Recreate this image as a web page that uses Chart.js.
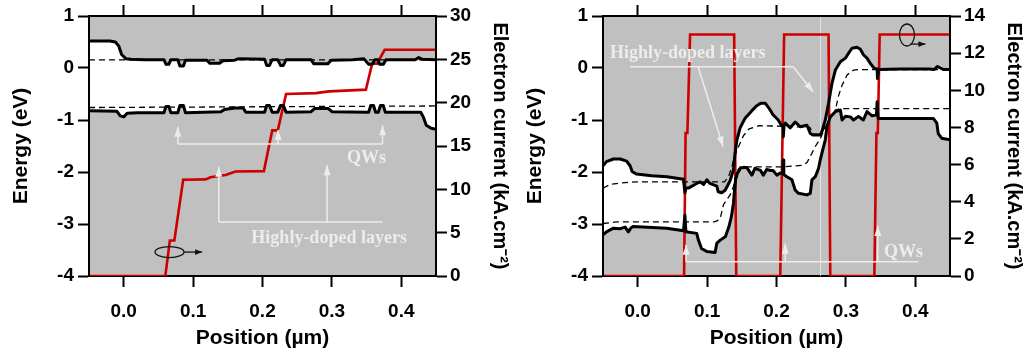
<!doctype html>
<html lang="en">
<head>
<meta charset="utf-8">
<title>Band diagrams</title>
<script src="https://cdn.jsdelivr.net/npm/chart.js"></script>
<style>
  html, body { margin: 0; padding: 0; background: #fff; }
  #wrap { position: relative; width: 1028px; height: 352px; }
  .panel { position: absolute; top: 0; width: 514px; height: 352px; }
</style>
</head>
<body>
<div id="wrap">
  <div class="panel" style="left:0"><canvas id="chartLeft" width="514" height="352"></canvas></div>
  <div class="panel" style="left:514px"><canvas id="chartRight" width="514" height="352"></canvas></div>
</div>

<script>
// ---- data: [position (um), energy (eV)] or [position, current (kA/cm2)] ----
const posTicks = [0, 0.1, 0.2, 0.3, 0.4];

// left panel
const leftEc = [[-0.05,0.52],[-0.02,0.52],[-0.012,0.50],[-0.007,0.42],[-0.003,0.26],[0.003,0.18],[0.01,0.17],[0.03,0.16],
  [0.058,0.16],[0.061,0.07],[0.065,0.07],[0.068,0.16],[0.078,0.16],[0.081,0.04],[0.086,0.04],[0.089,0.15],[0.12,0.15],
  [0.124,0.09],[0.138,0.09],[0.143,0.14],[0.16,0.15],[0.166,0.18],[0.203,0.17],[0.206,0.05],[0.21,0.05],[0.214,0.16],
  [0.222,0.16],[0.226,0.05],[0.23,0.05],[0.234,0.16],[0.27,0.16],[0.274,0.08],[0.294,0.08],[0.299,0.15],[0.33,0.16],
  [0.346,0.18],[0.353,0.07],[0.358,0.07],[0.362,0.16],[0.366,0.16],[0.369,0.07],[0.374,0.07],[0.378,0.16],[0.42,0.16],
  [0.425,0.20],[0.43,0.17],[0.45,0.16]];
const leftEv = [[-0.05,-0.82],[-0.01,-0.83],[-0.005,-0.92],[0.0,-0.94],[0.005,-0.87],[0.02,-0.86],[0.058,-0.86],[0.061,-0.74],
  [0.065,-0.74],[0.068,-0.86],[0.078,-0.86],[0.081,-0.72],[0.086,-0.72],[0.089,-0.86],[0.14,-0.84],[0.145,-0.80],[0.16,-0.77],
  [0.172,-0.77],[0.176,-0.85],[0.203,-0.85],[0.206,-0.72],[0.21,-0.72],[0.214,-0.85],[0.222,-0.85],[0.226,-0.72],[0.23,-0.72],
  [0.234,-0.85],[0.27,-0.84],[0.275,-0.78],[0.295,-0.78],[0.3,-0.84],[0.353,-0.85],[0.356,-0.72],[0.36,-0.72],[0.363,-0.85],
  [0.367,-0.85],[0.37,-0.72],[0.374,-0.72],[0.377,-0.85],[0.428,-0.85],[0.432,-0.95],[0.436,-1.10],[0.443,-1.16],[0.45,-1.18]];
const leftFn = [[-0.05,0.155],[0.2,0.155],[0.45,0.155]];
const leftFp = [[-0.05,-0.76],[0.2,-0.745],[0.45,-0.73]];
const leftJ = [[-0.05,0],[0.06,0],[0.0665,4.1],[0.073,4.1],[0.0857,11.1],[0.118,11.15],[0.125,11.4],[0.147,11.65],
  [0.161,12.05],[0.202,12.1],[0.214,16.8],[0.222,16.8],[0.234,21.0],[0.277,21.1],[0.296,21.3],[0.349,21.5],[0.358,24.5],
  [0.365,24.5],[0.376,26.1],[0.45,26.1]];

// right panel
const rightEc = [[-0.05,-1.88],[-0.045,-1.80],[-0.035,-1.75],[-0.025,-1.75],[-0.016,-1.79],[-0.011,-1.88],[-0.008,-1.99],
  [-0.002,-2.04],[0.02,-2.07],[0.042,-2.09],[0.066,-2.14],[0.068,-2.40],[0.0695,-2.31],[0.073,-2.31],[0.085,-2.22],[0.09,-2.19],
  [0.095,-2.24],[0.0996,-2.15],[0.104,-2.22],[0.114,-2.27],[0.116,-2.38],[0.121,-2.40],[0.126,-2.35],[0.13,-2.25],[0.133,-2.17],
  [0.138,-1.96],[0.140,-1.67],[0.143,-1.38],[0.1476,-1.15],[0.155,-0.96],[0.162,-0.86],[0.166,-0.80],[0.171,-0.73],[0.177,-0.68],
  [0.184,-0.68],[0.189,-0.77],[0.195,-0.90],[0.2025,-1.0],[0.207,-1.10],[0.2095,-1.13],[0.2098,-1.32],[0.211,-1.10],[0.2126,-1.06],
  [0.2198,-1.15],[0.227,-1.04],[0.2342,-1.13],[0.2439,-1.10],[0.2487,-1.26],[0.253,-1.29],[0.263,-1.29],[0.2655,-1.22],
  [0.2703,-1.0],[0.275,-0.68],[0.28,-0.29],[0.2848,-0.04],[0.292,0.12],[0.2993,0.19],[0.3036,0.28],[0.3088,0.38],[0.316,0.40],
  [0.3208,0.36],[0.3255,0.25],[0.3304,0.19],[0.3352,0.09],[0.341,-0.01],[0.345,-0.02],[0.3455,-0.2],[0.347,-0.03],[0.38,-0.02],
  [0.42,-0.02],[0.427,-0.03],[0.432,0.03],[0.436,0.0],[0.441,-0.03],[0.45,-0.03]];
const rightEv = [[-0.05,-3.21],[-0.045,-3.15],[-0.035,-3.08],[-0.025,-3.09],[-0.018,-3.06],[-0.0135,-3.15],[-0.010,-3.08],
  [-0.007,-3.05],[0.042,-3.08],[0.066,-3.13],[0.068,-2.83],[0.0695,-3.15],[0.085,-3.18],[0.0875,-3.31],[0.092,-3.47],
  [0.0996,-3.53],[0.1115,-3.55],[0.114,-3.37],[0.119,-3.31],[0.1265,-3.24],[0.1315,-3.05],[0.135,-2.86],[0.138,-2.60],
  [0.1395,-2.35],[0.141,-2.15],[0.1435,-2.03],[0.148,-1.93],[0.1525,-1.91],[0.1575,-1.92],[0.1645,-2.06],[0.169,-1.93],
  [0.177,-1.97],[0.181,-2.06],[0.186,-1.95],[0.191,-1.97],[0.195,-1.97],[0.2006,-2.06],[0.2054,-2.02],[0.209,-2.03],
  [0.2095,-1.77],[0.2105,-2.05],[0.215,-2.09],[0.2222,-2.15],[0.227,-2.35],[0.2317,-2.41],[0.2439,-2.44],[0.2487,-2.41],
  [0.2511,-2.15],[0.2559,-2.09],[0.2606,-1.93],[0.263,-1.77],[0.2678,-1.51],[0.2703,-1.38],[0.2727,-1.13],[0.2775,-0.94],
  [0.2848,-0.84],[0.292,-0.81],[0.2945,-1.0],[0.2993,-0.93],[0.3065,-0.94],[0.3109,-1.0],[0.3181,-0.93],[0.3251,-1.0],
  [0.3304,-0.84],[0.3377,-0.92],[0.344,-0.90],[0.345,-0.65],[0.3465,-0.97],[0.38,-0.97],[0.426,-0.97],[0.431,-1.06],
  [0.433,-1.26],[0.438,-1.35],[0.45,-1.38]];
const rightFn = [[-0.05,-2.31],[-0.04,-2.24],[-0.025,-2.21],[0.0,-2.19],[0.125,-2.19],[0.131,-2.09],[0.1365,-1.86],
  [0.1395,-1.70],[0.145,-1.52],[0.1525,-1.30],[0.1605,-1.17],[0.175,-1.11],[0.209,-1.12],[0.248,-1.14],[0.253,-1.27],
  [0.264,-1.27],[0.276,-1.0],[0.2848,-0.82],[0.289,-0.55],[0.2945,-0.33],[0.302,-0.13],[0.311,-0.04],[0.32,-0.03],[0.45,-0.03]];
const rightFp = [[-0.05,-2.99],[-0.03,-2.96],[0.11,-2.96],[0.1145,-2.94],[0.119,-2.89],[0.1212,-2.76],[0.1236,-2.63],
  [0.1284,-2.53],[0.1332,-2.44],[0.138,-2.28],[0.1429,-1.99],[0.1476,-1.90],[0.21,-1.90],[0.238,-1.87],[0.2439,-1.82],
  [0.2487,-1.70],[0.2559,-1.51],[0.263,-1.36],[0.27,-1.15],[0.2775,-0.95],[0.2848,-0.81],[0.292,-0.78],[0.45,-0.78]];
const rightJ = [[-0.05,0],[0.0668,0],[0.069,7.7],[0.0716,7.7],[0.0755,13.0],[0.139,13.0],[0.142,0],[0.2054,0],[0.211,13.0],
  [0.275,13.0],[0.2775,0],[0.341,0],[0.344,7.7],[0.346,7.7],[0.3487,13.0],[0.45,13.0]];

// ---- annotations (data coordinates) ----
const leftNotes = {
  lines: [[[0.078,-1.46],[0.373,-1.46]], [[0.137,-2.96],[0.373,-2.96]]],
  arrows: [[0.078,-1.46,0.078,-1.13],[0.2225,-1.46,0.2225,-1.19],[0.373,-1.46,0.373,-1.10],
           [0.137,-2.96,0.137,-1.90],[0.293,-2.96,0.293,-1.87]],
  texts: [['QWs',0.35,-1.73],['Highly-doped layers',0.296,-3.27]],
  oval: {at:[0.066,-3.54], rx:14.5, ry:5.5, from:[0.087,-3.54], to:[0.113,-3.54]},
  guide: null
};
const rightNotes = {
  lines: [[[-0.011,0.025],[0.224,0.025]], [[0.0697,-3.725],[0.4045,-3.725]]],
  arrows: [[0.087,0.025,0.123,-1.51],[0.224,0.025,0.253,-0.46],
           [0.0697,-3.725,0.0697,-3.40],[0.2126,-3.725,0.2126,-3.38],[0.346,-3.725,0.346,-3.04]],
  texts: [['Highly-doped layers',0.072,0.29],['QWs',0.383,-3.54]],
  oval: {at:[0.388,0.635], rx:7.5, ry:11, from:[0.393,0.46], to:[0.4146,0.46]},
  guide: 0.263
};

Chart.defaults.font.family = "'Liberation Sans', Arial, sans-serif";
Chart.defaults.font.size = 19;
Chart.defaults.font.weight = 'bold';
Chart.defaults.color = '#000';

const pts = arr => arr.map(p => ({x: p[0], y: p[1]}));

function arrow(ctx, x1, y1, x2, y2, len, half) {
  ctx.beginPath(); ctx.moveTo(x1, y1); ctx.lineTo(x2, y2); ctx.stroke();
  const a = Math.atan2(y2 - y1, x2 - x1);
  const bx = x2 - len * Math.cos(a), by = y2 - len * Math.sin(a);
  ctx.beginPath();
  ctx.moveTo(x2, y2);
  ctx.lineTo(bx + half * Math.sin(a), by - half * Math.cos(a));
  ctx.lineTo(bx - half * Math.sin(a), by + half * Math.cos(a));
  ctx.closePath(); ctx.fill();
}

function panelPlugin(notes) {
  return {
    id: 'panelDeco',
    beforeDraw(chart) {
      const {ctx, chartArea: a} = chart;
      ctx.save();
      ctx.fillStyle = '#c0c0c0';
      ctx.fillRect(a.left, a.top, a.right - a.left, a.bottom - a.top);
      ctx.restore();
    },
    beforeDatasetsDraw(chart) {
      if (notes.guide === null) return;
      const {ctx, chartArea: a, scales: {x}} = chart;
      const gx = Math.round(x.getPixelForValue(notes.guide)) + 0.5;
      ctx.save();
      ctx.strokeStyle = 'rgba(235,235,235,0.8)';
      ctx.lineWidth = 1;
      ctx.beginPath(); ctx.moveTo(gx, a.top); ctx.lineTo(gx, a.bottom); ctx.stroke();
      ctx.restore();
    },
    afterDatasetsDraw(chart) {
      const {ctx, chartArea: a, scales: {x, y}} = chart;
      const px = v => x.getPixelForValue(v), py = v => y.getPixelForValue(v);
      ctx.save();
      ctx.strokeStyle = '#ececec';
      ctx.fillStyle = '#ececec';
      ctx.lineWidth = 1.5;
      notes.lines.forEach(l => {
        ctx.beginPath();
        l.forEach((p, i) => i ? ctx.lineTo(px(p[0]), py(p[1])) : ctx.moveTo(px(p[0]), py(p[1])));
        ctx.stroke();
      });
      notes.arrows.forEach(r => arrow(ctx, px(r[0]), py(r[1]), px(r[2]), py(r[3]), 10, 3.5));
      ctx.font = "bold 18px 'Liberation Serif', 'Times New Roman', serif";
      ctx.textAlign = 'center';
      ctx.textBaseline = 'middle';
      notes.texts.forEach(t => ctx.fillText(t[0], px(t[1]), py(t[2])));

      // oval marker pointing to the current axis
      const o = notes.oval;
      ctx.strokeStyle = '#111';
      ctx.fillStyle = '#111';
      ctx.lineWidth = 1.3;
      ctx.beginPath();
      ctx.ellipse(px(o.at[0]), py(o.at[1]), o.rx, o.ry, 0, 0, Math.PI * 2);
      ctx.stroke();
      arrow(ctx, px(o.from[0]), py(o.from[1]), px(o.to[0]), py(o.to[1]), 7, 2.8);

      // redraw the frame sides over the white fill
      ctx.strokeStyle = '#000';
      ctx.lineWidth = 2;
      ctx.beginPath();
      ctx.moveTo(a.left, a.bottom); ctx.lineTo(a.left, a.top); ctx.lineTo(a.right, a.top); ctx.lineTo(a.right, a.bottom);
      ctx.stroke();
      ctx.restore();
    }
  };
}

function axisLook(extra) {
  return Object.assign({
    grid: {display: true, drawOnChartArea: false, drawTicks: true, tickLength: 11, tickWidth: 2, tickColor: '#000'},
    border: {display: true, color: '#000', width: 2}
  }, extra);
}

function makeChart(canvasId, ec, ev, fn, fp, cur, curMax, curStep, notes) {
  const common = {pointRadius: 0, pointHoverRadius: 0, tension: 0};
  return new Chart(document.getElementById(canvasId), {
    type: 'line',
    data: {
      datasets: [
        Object.assign({data: pts(ec), borderColor: '#000', borderWidth: 3, borderJoinStyle: 'round',
          fill: {target: '+1', above: '#fff', below: '#fff'}, backgroundColor: '#fff', yAxisID: 'y'}, common),
        Object.assign({data: pts(ev), borderColor: '#000', borderWidth: 3, borderJoinStyle: 'round', fill: false, yAxisID: 'y'}, common),
        Object.assign({data: pts(fn), borderColor: '#000', borderWidth: 1.3, borderDash: [6, 4], fill: false, yAxisID: 'y'}, common),
        Object.assign({data: pts(fp), borderColor: '#000', borderWidth: 1.3, borderDash: [6, 4], fill: false, yAxisID: 'y'}, common),
        Object.assign({data: pts(cur), borderColor: '#cc0000', borderWidth: 2.6, fill: false, yAxisID: 'y2'}, common)
      ]
    },
    options: {
      responsive: false,
      animation: false,
      events: [],
      layout: {padding: 0},
      plugins: {legend: {display: false}, tooltip: {enabled: false}, filler: {drawTime: 'beforeDatasetsDraw'}},
      scales: {
        x: axisLook({
          type: 'linear', position: 'bottom', min: -0.05, max: 0.45,
          afterBuildTicks: s => { s.ticks = posTicks.map(v => ({value: v})); },
          afterFit: s => { s.height = 76; },
          ticks: {padding: 13, maxRotation: 0, callback: v => v.toFixed(1)},
          title: {display: true, text: 'Position (\u00b5m)', font: {size: 21, weight: 'bold'}, padding: {top: 0, bottom: 1}}
        }),
        x2: axisLook({
          type: 'linear', position: 'top', min: -0.05, max: 0.45,
          afterBuildTicks: s => { s.ticks = posTicks.map(v => ({value: v})); },
          afterFit: s => { s.height = 16; },
          ticks: {display: false}
        }),
        y: axisLook({
          type: 'linear', position: 'left', min: -4, max: 1,
          afterFit: s => { s.width = 89; },
          ticks: {stepSize: 1, padding: 4},
          title: {display: true, text: 'Energy (eV)', font: {size: 21, weight: 'bold'}, padding: {top: 9, bottom: 0}}
        }),
        y2: axisLook({
          type: 'linear', position: 'right', min: 0, max: curMax,
          afterFit: s => { s.width = 78; },
          ticks: {stepSize: curStep, padding: 3},
          title: {display: true, text: 'Electron current (kA.cm\u207b\u00b2)', font: {size: 20, weight: 'bold'}, padding: {top: 2, bottom: 0}}
        })
      }
    },
    plugins: [panelPlugin(notes)]
  });
}

makeChart('chartLeft', leftEc, leftEv, leftFn, leftFp, leftJ, 30, 5, leftNotes);
makeChart('chartRight', rightEc, rightEv, rightFn, rightFp, rightJ, 14, 2, rightNotes);
</script>
</body>
</html>
